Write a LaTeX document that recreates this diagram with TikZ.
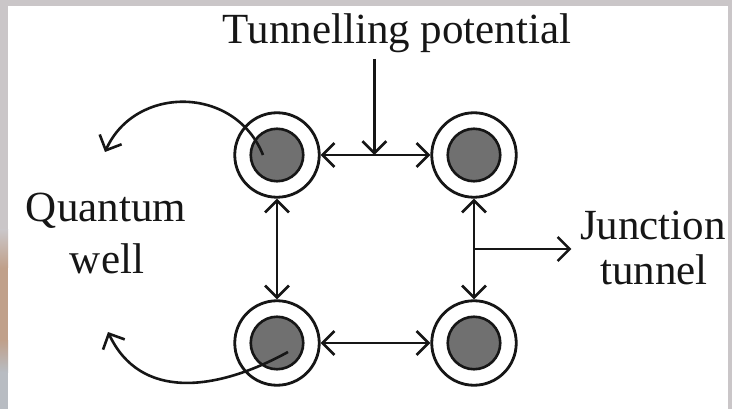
\documentclass[tikz,border=0pt]{standalone}
\usepackage{fontspec}
\setmainfont{Liberation Serif}
\usetikzlibrary{arrows.meta}
\definecolor{bordergray}{RGB}{202,198,200}
\definecolor{tanband}{RGB}{192,160,138}
\definecolor{bluegray}{RGB}{184,188,194}
\definecolor{wellgray}{RGB}{112,112,112}
\definecolor{ink}{RGB}{22,22,22}
\begin{document}
\begin{tikzpicture}[x=1pt,y=-1pt,
  outerwell/.style={circle,draw=ink,line width=2.8pt,minimum size=84.5pt,inner sep=0pt},
  innerwell/.style={circle,draw=ink,fill=wellgray,line width=2.6pt,minimum size=52.5pt,inner sep=0pt},
  lbl/.style={text=ink,font=\fontsize{43}{50}\selectfont,inner sep=0.5pt,anchor=base},
  tipv/.tip={Straight Barb[length=12pt,width=24pt]},
  arr/.style={draw=ink,line width=2.6pt,-tipv},
  biarr/.style={draw=ink,line width=2.6pt,tipv-tipv}]
\useasboundingbox (0,0) rectangle (732,409);
% background frame
\fill[bordergray] (0,0) rectangle (732,409);
\fill[white] (8,6) rectangle (728,409);
\shade[top color=bordergray,bottom color=tanband] (0,230) rectangle (8,268);
\fill[tanband] (0,268) rectangle (8,340);
\shade[top color=tanband,bottom color=bluegray] (0,340) rectangle (8,372);
\fill[bluegray] (0,372) rectangle (8,409);
% wells
\node[outerwell] (tl) at (277,155) {};
\node[outerwell] (tr) at (474,155) {};
\node[outerwell] (bl) at (277,343) {};
\node[outerwell] (br) at (474,343) {};
\node[innerwell] (tli) at (277,155) {};
\node[innerwell] (tri) at (474,155) {};
\node[innerwell] (bli) at (277,343) {};
\node[innerwell] (bri) at (474,343) {};
% labels
\node[lbl] (tunpot) at (397,44) {Tunnelling potential};
\node[lbl] (quant) at (106,222) {Quantum};
\node[lbl] (well) at (107,273) {well};
\node[lbl] (junc) at (653,240) {Junction};
\node[lbl] (tunn) at (654,284) {tunnel};
% connectors
\draw[biarr] (tl) -- (tr) coordinate[pos=0.49] (tp);
\draw[biarr] (bl) -- (br);
\draw[biarr] (tl) -- (bl);
\draw[biarr] (tr) -- (br) coordinate[pos=0.5] (jt);
\draw[arr,shorten <=5pt] (tp |- tunpot.south) -- (tp);
\draw[arr,shorten >=8pt] (jt) -- (jt -| junc.west);
% quantum well curved arrows
\coordinate (qa) at (105,152);
\coordinate (qb) at (108,332);
\draw[arr] ([xshift=-14pt]tli.center) .. controls (235,85) and (135,85) .. (qa);
\draw[arr] ([shift={(11,9)}]bli.center) .. controls (215,392) and (140,400) .. (qb);
\end{tikzpicture}
\end{document}
